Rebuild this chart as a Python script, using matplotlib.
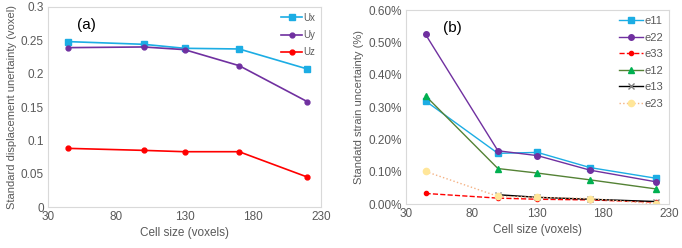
import matplotlib

matplotlib.use("Agg")
import matplotlib.pyplot as plt
from matplotlib.ticker import FuncFormatter

# cell sizes (voxels)
cell_size = [45, 100, 130, 170, 220]

# panel (a): displacement uncertainty (voxel)
ux = [0.248, 0.244, 0.238, 0.237, 0.207]
uy = [0.239, 0.240, 0.236, 0.212, 0.158]
uz = [0.088, 0.085, 0.083, 0.083, 0.045]

# panel (b): strain uncertainty (%)
e11 = [0.319, 0.157, 0.160, 0.113, 0.080]
e22 = [0.525, 0.165, 0.150, 0.105, 0.069]
e33 = [0.033, 0.0185, 0.015, 0.013, 0.006]
e12 = [0.335, 0.110, 0.096, 0.075, 0.047]
e13_size = [100, 130, 170, 220]
e13 = [0.029, 0.021, 0.015, 0.008]
e23 = [0.101, 0.024, 0.021, 0.017, 0.001]

text_color = "#595959"
frame_color = "#d9d9d9"
plt.rcParams["font.family"] = ["Liberation Sans", "DejaVu Sans"]

fig = plt.figure(figsize=(6.82, 2.48), dpi=100)
ax_a = fig.add_axes([0.0704, 0.165, 0.4003, 0.807])
ax_b = fig.add_axes([0.595, 0.177, 0.386, 0.782])


def style_axis(axis):
    for spine in axis.spines.values():
        spine.set_color(frame_color)
        spine.set_linewidth(0.8)
    axis.tick_params(length=0, labelsize=8.5, colors=text_color, pad=3)
    axis.set_xlim(30, 230)
    axis.set_xticks([30, 80, 130, 180, 230])
    axis.set_xlabel("Cell size (voxels)", fontsize=8.5, color=text_color, labelpad=3)


# (a)
ax_a.plot(cell_size, ux, color="#1cade4", marker="s", markersize=4, linewidth=1.2, label="Ux")
ax_a.plot(cell_size, uy, color="#7030a0", marker="o", markersize=3.5, linewidth=1.2, label="Uy")
ax_a.plot(cell_size, uz, color="#ff0000", marker="o", markersize=3.5, linewidth=1.2, label="Uz")
style_axis(ax_a)
ax_a.set_ylim(0, 0.3)
ax_a.set_yticks([0, 0.05, 0.1, 0.15, 0.2, 0.25, 0.3])
ax_a.set_yticklabels(["0", "0.05", "0.1", "0.15", "0.2", "0.25", "0.3"])
ax_a.set_ylabel("Standard displacement unertainty (voxel)", fontsize=8, color=text_color, labelpad=3)
ax_a.text(0.106, 0.91, "(a)", transform=ax_a.transAxes, fontsize=11, ha="left", va="center")
leg_a = ax_a.legend(loc="upper right", frameon=False, fontsize=7, handlelength=2.2,
                    handletextpad=0.1, labelspacing=0.75, borderaxespad=0.2)
for t in leg_a.get_texts():
    t.set_color(text_color)

# (b)
ax_b.plot(cell_size, e11, color="#1cade4", marker="s", markersize=4, linewidth=1.0, label="e11")
ax_b.plot(cell_size, e22, color="#7030a0", marker="o", markersize=4, linewidth=1.0, label="e22")
ax_b.plot(cell_size, e33, color="#ff0000", marker="o", markersize=3, linewidth=1.0, linestyle="--", label="e33")
ax_b.plot(cell_size, e12, color="#548235", marker="^", markersize=4.5, linewidth=1.0,
          markerfacecolor="#00b050", markeredgecolor="#00b050", label="e12")
ax_b.plot(e13_size, e13, color="#000000", marker="x", markersize=4, linewidth=1.0,
          markeredgecolor="#7f7f7f", label="e13")
ax_b.plot(cell_size, e23, color="#f4b183", marker="o", markersize=4.5, linewidth=1.0, linestyle=":",
          markerfacecolor="#ffe699", markeredgecolor="#ffe699", label="e23")
style_axis(ax_b)
ax_b.set_ylim(0, 0.6)
ax_b.set_yticks([0, 0.1, 0.2, 0.3, 0.4, 0.5, 0.6])
ax_b.yaxis.set_major_formatter(FuncFormatter(lambda v, _: f"{v:.2f}%"))
ax_b.set_ylabel("Standatd strain uncertainty (%)", fontsize=8, color=text_color, labelpad=3)
ax_b.text(0.14, 0.91, "(b)", transform=ax_b.transAxes, fontsize=11, ha="left", va="center")
leg_b = ax_b.legend(loc="upper right", frameon=False, fontsize=8, handlelength=2.2,
                    handletextpad=0.1, labelspacing=0.58, borderaxespad=0.15)
for t in leg_b.get_texts():
    t.set_color(text_color)

fig.savefig("out.png", dpi=100)
